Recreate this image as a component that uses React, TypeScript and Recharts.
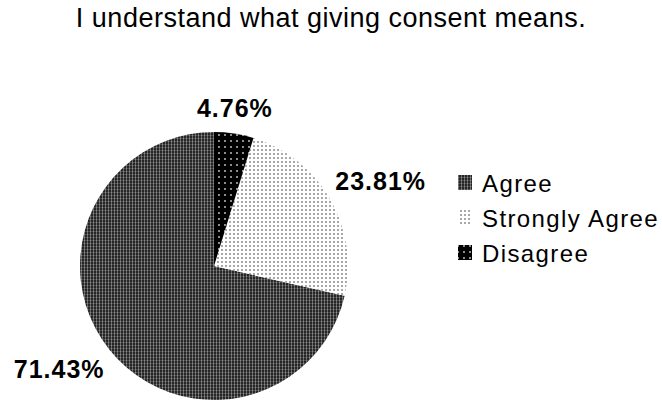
import React from 'react';
import { PieChart, Pie, Cell, Legend } from 'recharts';

const TITLE = 'I understand what giving consent means.';
const categories = ['Agree', 'Strongly Agree', 'Disagree'];
const percentages = [71.43, 23.81, 4.76];
const patternIds = ['patAgree', 'patStrong', 'patDisagree'];

const data = categories.map((name, i) => ({ name, value: percentages[i] }));

const FONT = '"Liberation Sans", Arial, sans-serif';
const RAD = Math.PI / 180;

const renderLabel = (props: any) => {
  const { cx, cy, midAngle, outerRadius, value } = props;
  const cos = Math.cos(-midAngle * RAD);
  const sin = Math.sin(-midAngle * RAD);
  const px = cx + (outerRadius + 6) * cos;
  const py = cy + (outerRadius + 17) * sin;
  let anchor: 'start' | 'middle' | 'end' = 'middle';
  if (cos > 0.3) anchor = 'start';
  else if (cos < -0.3) anchor = 'end';
  const capH = 18;
  const baseline = sin < 0 ? py : py + capH;
  return (
    <text
      x={px}
      y={baseline}
      textAnchor={anchor}
      fill="#000"
      fontFamily={FONT}
      fontSize={25}
      fontWeight="bold"
      letterSpacing={1}
    >
      {`${Number(value).toFixed(2)}%`}
    </text>
  );
};

const renderLegend = (props: any) => {
  const { payload } = props;
  const present = new Set((payload || []).map((p: any) => p.value as string));
  const items = categories.filter((c) => present.size === 0 || present.has(c));
  return (
    <svg width={207} height={110} style={{ display: 'block' }}>
      {items.map((name: string, i: number) => {
        const idx = categories.indexOf(name);
        const base = 27 + 35 * i;
        return (
          <g key={name}>
            <rect x={3} y={base - 17} width={14} height={15} fill={`url(#${patternIds[idx]})`} />
            <text x={27} y={base} fontFamily={FONT} fontSize={24} letterSpacing={1.4} fill="#000">
              {name}
            </text>
          </g>
        );
      })}
    </svg>
  );
};

export default function App() {
  return (
    <div style={{ position: 'absolute', left: 0, top: 0, width: 662, height: 402, background: '#fff' }}>
      <div
        style={{
          position: 'absolute',
          left: 0,
          top: 5,
          width: 662,
          textAlign: 'center',
          fontFamily: FONT,
          fontSize: 27,
          lineHeight: '27px',
          letterSpacing: 0.5,
          color: '#000',
          zIndex: 2,
        }}
      >
        {TITLE}
      </div>
      <PieChart width={662} height={402} margin={{ top: 0, right: 0, bottom: 0, left: 0 }}>
        <defs>
          <pattern id="patAgree" width={3} height={3} patternUnits="userSpaceOnUse">
            <rect width={3} height={3} fill="#262626" />
            <rect x={0} y={0} width={1} height={3} fill="#6a6a6a" />
            <rect x={0} y={0} width={3} height={1} fill="#4a4a4a" />
            <rect x={0} y={0} width={1} height={1} fill="#8a8a8a" />
          </pattern>
          <pattern id="patStrong" width={4} height={4} patternUnits="userSpaceOnUse">
            <rect width={4} height={4} fill="#ffffff" />
            <rect x={1} y={1} width={2} height={2} fill="#a8a8a8" />
          </pattern>
          <pattern id="patDisagree" width={6} height={6} patternUnits="userSpaceOnUse">
            <rect width={6} height={6} fill="#000000" />
            <circle cx={3} cy={3} r={0.9} fill="#cfcfcf" />
          </pattern>
        </defs>
        <Pie
          data={data}
          dataKey="value"
          nameKey="name"
          cx={214}
          cy={266}
          outerRadius={134}
          startAngle={90}
          endAngle={450}
          stroke="none"
          isAnimationActive={false}
          label={renderLabel}
          labelLine={false}
        >
          {data.map((d, i) => (
            <Cell key={d.name} fill={`url(#${patternIds[i]})`} />
          ))}
        </Pie>
        <Legend
          layout="vertical"
          align="right"
          verticalAlign="middle"
          content={renderLegend}
          wrapperStyle={{ left: 455, top: 165, right: 'auto', width: 207, height: 110 }}
        />
      </PieChart>
    </div>
  );
}
